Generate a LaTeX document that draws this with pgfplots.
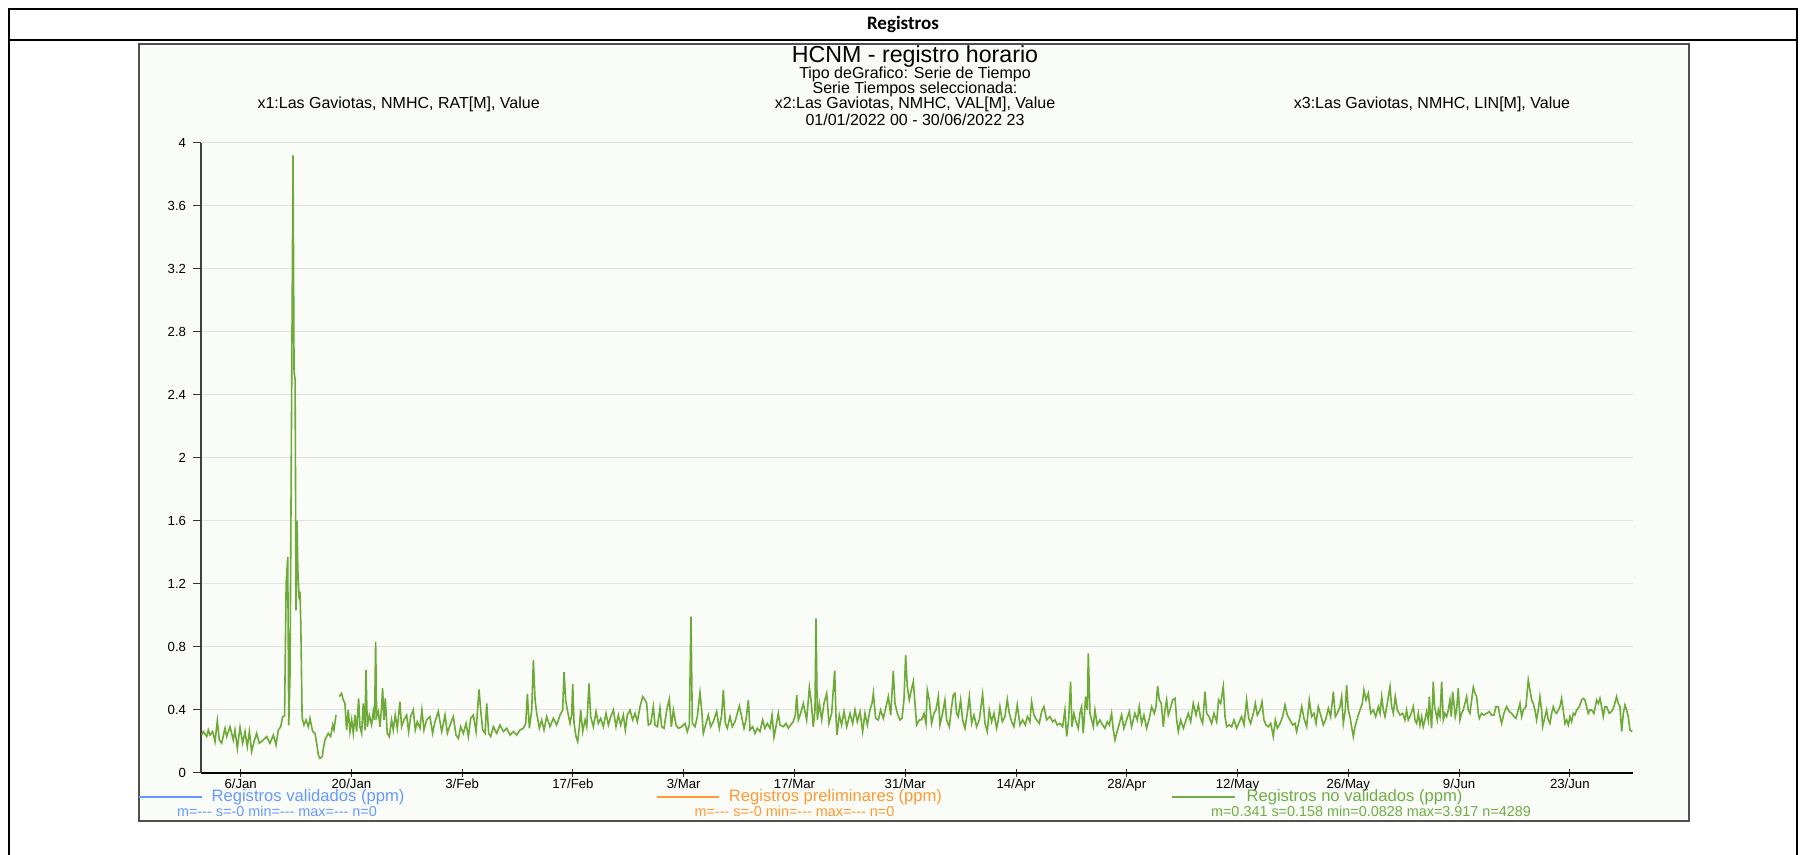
\documentclass[border=0pt]{standalone}
\usepackage{fontspec}
\setmainfont{Liberation Sans}
\newfontfamily\headfont{Carlito}
\usepackage{pgfplots}
\pgfplotsset{compat=1.18}

\definecolor{framebg}{RGB}{250,252,248}
\definecolor{framedraw}{RGB}{80,80,80}
\definecolor{gridc}{RGB}{226,226,226}
\definecolor{linegreen}{RGB}{110,170,55}
\definecolor{txtblue}{RGB}{102,153,255}
\definecolor{txtorange}{RGB}{255,153,51}
\definecolor{txtgreen}{RGB}{112,173,71}

\begin{document}
\begin{tikzpicture}[x=0.5pt,y=-0.5pt]
\useasboundingbox (0,0) rectangle (1804,855);

% outer table box
\draw[line width=1.25pt] (9,855) -- (9,9) -- (1797,9) -- (1797,855);
\draw[line width=1.25pt] (9,40) -- (1797,40);
\node[font=\headfont\bfseries\fontsize{9.5}{11}\selectfont] at (903,24) {Registros};

% chart frame
\filldraw[fill=framebg, draw=framedraw, line width=0.7pt] (139,44) rectangle (1689,821);

% titles
\node[font=\fontsize{11.6}{13}\selectfont] at (915,57) {HCNM - registro horario};
\node[font=\fontsize{8}{9}\selectfont] at (915,74.5) {Tipo deGrafico: Serie de Tiempo};
\node[font=\fontsize{8}{9}\selectfont] at (915,89.4) {Serie Tiempos seleccionada:};
\node[font=\fontsize{8}{9}\selectfont] at (915,104.4) {x2:Las Gaviotas, NMHC, VAL[M], Value};
\node[font=\fontsize{8}{9}\selectfont] at (915,119.4) {01/01/2022 00 - 30/06/2022 23};
\node[font=\fontsize{8}{9}\selectfont] at (398.6,104.4) {x1:Las Gaviotas, NMHC, RAT[M], Value};
\node[font=\fontsize{8}{9}\selectfont] at (1432,104.4) {x3:Las Gaviotas, NMHC, LIN[M], Value};

\begin{axis}[
    at={(100.55pt,-386.35pt)}, anchor=south west,
    scale only axis, width=716pt, height=315pt,
    xmin=0, xmax=181, ymin=0, ymax=4,
    axis x line=bottom, axis y line=left,
    x axis line style={-, black, line width=1pt},
    y axis line style={-, black!75, line width=0.8pt},
    xtick={5,19,33,47,61,75,89,103,117,131,145,159,173},
    xticklabels={6/Jan,20/Jan,3/Feb,17/Feb,3/Mar,17/Mar,31/Mar,14/Apr,28/Apr,12/May,26/May,9/Jun,23/Jun},
    ytick={0,0.4,0.8,1.2,1.6,2,2.4,2.8,3.2,3.6,4},
    xtick align=center, ytick align=outside,
    major tick length=4pt,
    tick style={black!80, line width=0.5pt},
    ymajorgrids, grid style={gridc, line width=0.5pt},
    /pgf/number format/assume math mode=true,
    tick label style={font=\fontsize{6.6}{7}\selectfont},
    xticklabel style={yshift=2.6pt},
    unbounded coords=jump,
    clip=false,
]
\addplot[linegreen, line width=0.8pt] coordinates {
(0.07,0.239) (0.28,0.261) (0.70,0.229) (0.91,0.271) (1.12,0.239) (1.46,0.261)
(1.76,0.197) (2.05,0.330) (2.30,0.208) (2.60,0.187) (3.02,0.282) (3.23,0.229)
(3.65,0.292) (4.07,0.208) (4.28,0.271) (4.58,0.155) (4.92,0.288) (5.25,0.187)
(5.55,0.261) (5.84,0.165) (6.10,0.261) (6.39,0.134) (6.69,0.197) (7.02,0.250)
(7.36,0.187) (7.86,0.208) (8.29,0.229) (8.71,0.187) (9.13,0.239) (9.47,0.176)
(9.76,0.271) (10.06,0.292) (10.31,0.356) (10.55,0.36) (10.75,1.20) (10.95,1.37)
(11.08,0.30) (11.24,0.62) (11.62,3.92) (11.75,2.54) (11.88,2.50) (12.00,1.03)
(12.13,1.60) (12.22,1.30) (12.39,1.10) (12.50,1.15) (12.60,0.95) (12.77,0.35)
(13.00,0.303) (13.26,0.335) (13.55,0.292) (13.76,0.345) (14.10,0.261) (14.39,0.250)
(14.61,0.187) (14.82,0.112) (15.03,0.091) (15.32,0.102) (15.45,0.155) (15.66,0.208)
(16.08,0.250) (16.37,0.229) (16.63,0.303) (16.79,0.271) (17.05,0.366) (17.25,nan)
(17.47,0.483) (17.76,0.504) (17.97,0.462) (18.18,0.440) (18.39,0.271) (18.60,0.398)
(18.82,0.261) (19.03,0.335) (19.24,0.250) (19.45,0.366) (19.66,0.261) (19.91,0.472)
(20.08,0.292) (20.29,0.250) (20.50,0.440) (20.71,0.271) (20.84,0.652) (21.01,0.292)
(21.26,0.366) (21.55,0.303) (21.76,0.388) (21.93,0.335) (22.06,0.832) (22.19,0.356)
(22.40,0.388) (22.61,0.292) (22.82,0.419) (22.94,0.536) (23.11,0.335) (23.28,0.472)
(23.53,0.250) (23.79,0.229) (24.08,0.335) (24.29,0.271) (24.54,0.366) (24.80,0.282)
(25.13,0.451) (25.34,0.292) (25.64,0.335) (25.98,0.366) (26.23,0.261) (26.48,0.356)
(26.82,0.398) (27.07,0.271) (27.32,0.324) (27.66,0.282) (27.91,0.398) (28.17,0.271)
(28.50,0.335) (28.92,0.356) (29.26,0.250) (29.56,0.324) (29.98,0.388)
(30.41,0.261) (30.83,0.366) (31.13,0.250) (31.46,0.303) (31.88,0.356) (32.22,0.239)
(32.52,0.218) (32.81,0.292) (33.15,0.250) (33.49,0.313) (33.78,0.229) (34.08,0.345)
(34.41,0.366) (34.75,0.261) (35.13,0.529) (35.34,0.398) (35.59,0.271) (35.89,0.250)
(36.10,0.440) (36.35,0.250) (36.60,0.229) (36.94,0.292) (37.36,0.250) (37.78,0.303)
(38.20,0.261) (38.63,0.282) (39.05,0.239) (39.47,0.261) (39.89,0.239) (40.31,0.271)
(40.73,0.282) (41.03,0.313) (41.24,0.500) (41.49,0.282) (41.79,0.398) (42.00,0.716)
(42.21,0.462) (42.42,0.377) (42.75,0.282) (43.05,0.335) (43.34,0.271) (43.68,0.356)
(44.10,0.292) (44.52,0.345) (44.94,0.303) (45.37,0.366) (45.70,0.398) (45.87,0.639)
(46.08,0.462) (46.29,0.398) (46.63,0.313) (46.84,0.366) (46.97,0.563) (47.14,0.313)
(47.39,0.229) (47.60,0.197) (47.81,0.292) (47.98,0.398) (48.23,0.261) (48.53,0.335)
(48.74,0.292) (49.03,0.567) (49.24,0.356) (49.58,0.292) (49.92,0.388) (50.21,0.313)
(50.51,0.345) (50.84,0.292) (51.18,0.377) (51.48,0.303) (51.77,0.356) (52.11,0.398)
(52.44,0.292) (52.74,0.366) (53.03,0.303) (53.37,0.366) (53.62,0.271) (53.87,0.366)
(54.21,0.398) (54.55,0.335) (54.85,0.377) (55.14,0.324) (55.48,0.419) (55.82,0.483)
(56.11,0.462) (56.32,0.440) (56.53,0.303) (56.83,0.313) (57.16,0.419) (57.37,0.303)
(57.67,0.292) (58.00,0.409) (58.21,0.292) (58.51,0.282) (58.85,0.398) (59.18,0.466)
(59.44,0.292) (59.69,0.398) (60.03,0.303) (60.32,0.282)
(60.74,0.292) (61.16,0.313) (61.46,0.261) (61.71,0.303) (61.92,0.991) (62.09,0.313)
(62.43,0.292) (62.72,0.356) (63.06,0.508) (63.27,0.398) (63.48,0.250) (63.82,0.313)
(64.11,0.366) (64.41,0.292) (64.74,0.324) (65.16,0.388) (65.50,0.282) (65.80,0.366)
(66.01,0.525) (66.26,0.313) (66.51,0.282) (66.85,0.356) (67.14,0.292) (67.48,0.324)
(67.78,0.377) (68.03,0.424) (68.28,0.366) (68.62,0.282) (68.87,0.335) (69.17,0.462)
(69.38,0.271) (69.71,0.292) (70.01,0.250) (70.30,0.282) (70.64,0.261) (70.98,0.335)
(71.27,0.282) (71.57,0.313) (71.91,0.282) (72.16,0.366) (72.41,0.225) (72.66,0.292)
(72.96,0.377) (73.17,0.303) (73.59,0.292) (73.93,0.313) (74.22,0.282) (74.52,0.303)
(74.85,0.324) (75.11,0.366) (75.28,0.493) (75.49,0.335) (75.78,0.377) (76.12,0.440)
(76.33,0.388) (76.54,0.335) (76.88,0.542) (77.09,0.462) (77.38,0.292) (77.59,0.398)
(77.72,0.980) (77.89,0.335) (78.14,0.440) (78.44,0.335) (78.73,0.440) (79.07,0.504)
(79.36,0.313) (79.70,0.377) (80.08,0.648) (80.25,0.356) (80.37,0.239) (80.67,0.366)
(80.96,0.303) (81.26,0.388) (81.60,0.292) (82.02,0.377) (82.35,0.313) (82.65,0.398)
(82.94,0.324) (83.28,0.388) (83.62,0.261) (83.91,0.377) (84.21,0.303) (84.54,0.398)
(84.80,0.440) (84.97,0.504) (85.26,0.345) (85.60,0.335) (85.89,0.398) (86.23,0.345)
(86.57,0.419) (86.86,0.483) (87.16,0.366) (87.49,0.646) (87.70,0.440) (88.00,0.377)
(88.34,0.335) (88.59,0.345) (88.84,0.462) (89.05,0.747) (89.26,0.546) (89.51,0.462)
(89.77,0.525) (90.02,0.578) (90.23,0.440) (90.44,0.303) (90.78,0.335)
(91.07,0.335) (91.37,0.377) (91.62,0.313) (91.79,0.525) (92.04,0.462) (92.33,0.313)
(92.63,0.377) (92.88,0.398) (93.18,0.483) (93.39,0.303) (93.72,0.377) (94.02,0.462)
(94.23,0.335) (94.57,0.292) (94.86,0.419) (95.07,0.493) (95.28,0.504) (95.49,0.377)
(95.70,0.356) (96.00,0.462) (96.25,0.335) (96.55,0.282) (96.84,0.377) (97.10,0.483)
(97.39,0.313) (97.69,0.366) (98.02,0.292) (98.36,0.335) (98.78,0.498) (99.08,0.313)
(99.37,0.261) (99.62,0.398) (99.92,0.324) (100.21,0.377) (100.55,0.282) (100.76,0.335)
(100.97,0.419) (101.27,0.324) (101.60,0.356) (101.90,0.466) (102.15,0.377) (102.45,0.324)
(102.74,0.292) (103.16,0.430) (103.50,0.303) (103.84,0.335) (104.17,0.303) (104.43,0.356)
(104.76,0.324) (104.97,0.451) (105.27,0.366) (105.61,0.335) (105.94,0.313) (106.24,0.388)
(106.53,0.419) (106.87,0.335) (107.29,0.356) (107.63,0.324) (107.92,0.335) (108.22,0.303)
(108.55,0.313) (108.89,0.292) (109.19,0.398) (109.40,0.229) (109.65,0.335) (109.90,0.578)
(110.07,0.292) (110.32,0.377) (110.58,0.324) (110.87,0.282) (111.08,0.377) (111.29,0.419)
(111.50,0.250) (111.80,0.483) (112.01,0.398) (112.14,0.758) (112.35,0.377) (112.56,0.335)
(112.77,0.292) (112.98,0.398) (113.27,0.303) (113.61,0.335) (113.95,0.303) (114.24,0.282)
(114.54,0.324) (114.79,0.303) (115.08,0.377) (115.30,0.271) (115.51,0.208) (115.72,0.250)
(116.01,0.303) (116.35,0.366) (116.64,0.282) (116.98,0.335) (117.32,0.388) (117.61,0.292)
(118.03,0.377) (118.33,0.335) (118.58,0.419) (118.88,0.313) (119.17,0.366) (119.51,0.282)
(119.85,0.345) (120.14,0.419) (120.48,0.377) (120.69,0.419) (120.90,0.550) (121.11,0.462)
(121.36,0.440)
(121.62,0.292) (121.83,0.398) (122.04,0.462) (122.25,0.366) (122.46,0.398) (122.80,0.462)
(123.10,0.472) (123.31,0.335) (123.52,0.261) (123.81,0.335) (124.15,0.282) (124.49,0.335)
(124.78,0.377) (125.08,0.324) (125.41,0.440) (125.75,0.366) (126.05,0.430) (126.34,0.345)
(126.59,0.313) (126.89,0.514) (127.10,0.377) (127.39,0.356) (127.73,0.313) (128.02,0.377)
(128.36,0.324) (128.61,0.462) (128.87,0.440) (129.20,0.546) (129.42,0.356) (129.63,0.292)
(129.96,0.303) (130.26,0.292) (130.55,0.335) (130.89,0.282) (131.23,0.324) (131.52,0.356)
(131.82,0.303) (132.15,0.462) (132.41,0.345) (132.66,0.313) (133.00,0.377) (133.25,0.440)
(133.50,0.366) (133.84,0.398) (134.09,0.451) (134.34,0.335) (134.60,0.303) (134.89,0.292)
(135.19,0.313) (135.52,0.229) (135.78,0.335) (136.03,0.282) (136.37,0.313) (136.70,0.356)
(137.00,0.430) (137.29,0.366) (137.63,0.335) (137.97,0.303) (138.26,0.313) (138.47,0.261)
(138.81,0.335) (139.11,0.419) (139.40,0.345) (139.74,0.292) (140.07,0.462) (140.37,0.356)
(140.66,0.377) (140.92,0.313) (141.21,0.419) (141.51,0.366) (141.84,0.303) (142.18,0.345)
(142.48,0.409) (142.77,0.356) (143.11,0.514) (143.36,0.356) (143.61,0.377) (143.95,0.419)
(144.16,0.483) (144.37,0.313) (144.62,0.398) (144.79,0.557) (145.00,0.398) (145.21,0.356)
(145.42,0.292) (145.64,0.229) (145.85,0.292) (146.14,0.345) (146.48,0.398) (146.77,0.440)
(146.98,0.525) (147.24,0.462) (147.53,0.504) (147.83,0.377) (148.16,0.398) (148.46,0.356)
(148.80,0.419) (149.01,0.377) (149.22,0.483) (149.43,0.398) (149.64,0.356) (149.93,0.440)
(150.27,0.546) (150.48,0.419) (150.69,0.377) (150.94,0.483) (151.20,0.398) (151.53,0.366)
(151.87,0.377) (152.16,0.335) (152.37,0.398) (152.58,0.335) (152.88,0.366) (153.22,0.419)
(153.43,0.335) (153.64,0.313) (153.85,0.377) (154.06,0.303) (154.27,0.356) (154.48,0.292)
(154.69,0.335) (154.90,0.388) (155.11,0.335) (155.24,0.483) (155.41,0.356) (155.53,0.282)
(155.74,0.578) (155.91,0.419) (156.08,0.377) (156.25,0.335) (156.38,0.398) (156.59,0.356)
(156.80,0.578) (157.01,0.335) (157.22,0.377) (157.43,0.356) (157.64,0.398) (157.85,0.462)
(158.02,0.356) (158.19,0.514) (158.40,0.419) (158.52,0.356) (158.69,0.398) (158.90,0.536)
(159.11,0.335) (159.32,0.377) (159.53,0.398) (159.75,0.440) (159.96,0.483) (160.17,0.398)
(160.38,0.377) (160.59,0.462) (160.80,0.542) (161.01,0.504) (161.22,0.483) (161.43,0.377)
(161.56,0.345) (161.85,0.377) (162.15,0.366) (162.48,0.377) (162.82,0.388) (163.12,0.366)
(163.41,0.366) (163.66,0.419) (163.96,0.419) (164.17,0.356) (164.38,0.313) (164.67,0.377)
(165.01,0.419) (165.35,0.388) (165.64,0.377) (165.94,0.356) (166.19,0.345) (166.44,0.388)
(166.70,0.440) (166.91,0.356) (167.12,0.398) (167.45,0.419) (167.75,0.589) (167.96,0.525)
(168.17,0.462) (168.38,0.440) (168.59,0.398) (168.80,0.335) (169.01,0.398) (169.22,0.483)
(169.43,0.398) (169.56,0.292) (169.86,0.356) (170.07,0.398) (170.28,0.335) (170.49,0.313)
(170.70,0.377) (170.91,0.419) (171.12,0.388) (171.33,0.377) (171.54,0.398) (171.75,0.419)
(171.96,0.472) (172.17,0.398) (172.38,0.313) (172.60,0.335) (172.81,0.303) (173.02,0.356)
(173.23,0.324) (173.44,0.377) (173.65,0.366) (173.86,0.398) (174.20,0.419) (174.49,0.462)
(174.70,0.472) (174.91,0.462) (175.12,0.419) (175.33,0.377) (175.54,0.398) (175.75,0.398)
(176.05,0.377) (176.39,0.462) (176.60,0.440) (176.81,0.472) (177.02,0.419) (177.23,0.356)
(177.44,0.419) (177.65,0.419) (177.99,0.377) (178.28,0.388) (178.58,0.419) (178.91,0.483)
(179.12,0.440) (179.34,0.419) (179.55,0.261) (179.76,0.377) (179.97,0.430) (180.18,0.398)
(180.39,0.356) (180.60,0.271) (180.90,0.261)
};
\end{axis}

% legend
\draw[txtblue, line width=0.6pt] (139,797) -- (202,797);
\node[txtblue, font=\fontsize{8.3}{9}\selectfont] at (308,797.5) {Registros validados (ppm)};
\node[txtblue, font=\fontsize{7.2}{8}\selectfont] at (277,811.5) {m=-{}-{}- s=-0 min=-{}-{}- max=-{}-{}- n=0};
\draw[txtorange, line width=0.6pt] (657,797) -- (719,797);
\node[txtorange, font=\fontsize{8.3}{9}\selectfont] at (835.5,797.5) {Registros preliminares (ppm)};
\node[txtorange, font=\fontsize{7.2}{8}\selectfont] at (794.5,811.5) {m=-{}-{}- s=-0 min=-{}-{}- max=-{}-{}- n=0};
\draw[txtgreen, line width=0.6pt] (1172,797) -- (1235,797);
\node[txtgreen, font=\fontsize{8.3}{9}\selectfont] at (1354.5,797.5) {Registros no validados (ppm)};
\node[txtgreen, font=\fontsize{7.2}{8}\selectfont] at (1371,811.5) {m=0.341 s=0.158 min=0.0828 max=3.917 n=4289};
\end{tikzpicture}
\end{document}
